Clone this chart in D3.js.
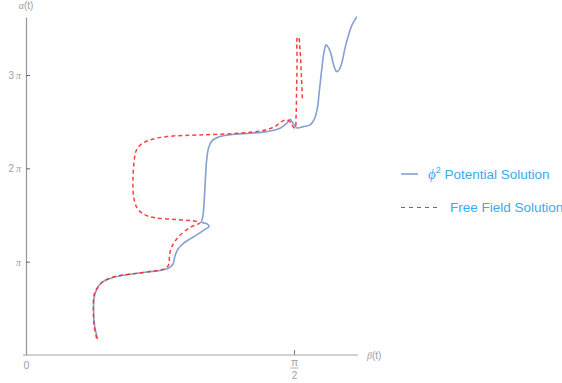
<!DOCTYPE html>
<html>
<head>
<meta charset="utf-8">
<script src="https://cdn.jsdelivr.net/npm/d3@7"></script>
<style>
  html, body { margin: 0; padding: 0; background: #fff; }
  svg { display: block; }
  .tick text { font-family: "Liberation Sans", Arial, sans-serif; }
</style>
</head>
<body>
<svg id="chart" width="562" height="383"></svg>
<script>
const PI = Math.PI;

// Trajectory (β(t), α(t)) for the φ² potential, in radians
const potentialBeta = [0.420,0.4015,0.396,0.400,0.416,0.444,0.492,0.580,0.709,0.786,0.834,0.862,0.873,0.891,0.926,1.001,1.049,1.073,1.061,1.029,1.035,1.041,1.049,1.059,1.070,1.090,1.137,1.225,1.313,1.411,1.489,1.528,1.548,1.567,1.589,1.625,1.665,1.688,1.706,1.720,1.733,1.747,1.759,1.770,1.786,1.803,1.821,1.835,1.851,1.870,1.888,1.911,1.939];
const potentialAlpha = [0.529,1.010,1.515,1.953,2.222,2.441,2.576,2.694,2.795,2.845,2.919,3.064,3.333,3.569,3.771,4.041,4.226,4.327,4.411,4.478,4.613,4.882,5.657,6.566,6.970,7.206,7.351,7.431,7.465,7.519,7.633,7.802,7.930,7.778,7.644,7.687,7.745,7.913,8.250,8.923,9.597,10.203,10.438,10.371,10.169,9.765,9.539,9.597,9.832,10.337,10.718,11.112,11.391];

// Trajectory for the free field
const freeBeta = [0.414,0.399,0.395,0.399,0.416,0.446,0.512,0.668,0.786,0.821,0.838,0.841,0.854,0.893,0.961,1.010,1.020,0.973,0.873,0.756,0.692,0.651,0.631,0.627,0.633,0.645,0.674,0.727,0.825,1.020,1.254,1.389,1.460,1.495,1.528,1.548,1.562,1.577,1.583,1.586,1.589,1.590,1.597,1.606,1.614,1.620];
const freeAlpha = [0.562,1.010,1.515,2.020,2.239,2.441,2.626,2.761,2.862,2.929,3.064,3.367,3.637,3.973,4.293,4.411,4.461,4.519,4.563,4.620,4.731,4.950,5.330,5.893,6.465,6.869,7.088,7.239,7.351,7.408,7.465,7.559,7.694,7.846,7.913,7.846,7.711,7.633,8.081,8.923,9.933,10.674,10.708,10.270,9.428,8.586];

const xTicks = [0, PI / 2];
const xTickLabels = ["0", ["π", "2"]];
const yTicks = [PI, 2 * PI, 3 * PI];
const yTickLabels = ["", "2", "3"];
const legendLabels = ["Potential Solution", "Free Field Solution"];

const svg = d3.select("#chart");

const x = d3.scaleLinear().domain([0, 1.9459]).range([26, 358]);
const y = d3.scaleLinear().domain([0, 3.6214 * PI]).range([355, 17]);

const axisColor = "#a3a3a3";
const labelColor = "#a0a0a0";

// x axis
const gx = svg.append("g").attr("transform", `translate(0,${y(0)})`)
  .call(d3.axisBottom(x).tickValues(xTicks).tickSize(-5).tickSizeOuter(0).tickFormat(""));
gx.select(".domain").remove();
svg.append("line")
  .attr("x1", x(0) - 3).attr("x2", x.range()[1])
  .attr("y1", y(0)).attr("y2", y(0))
  .attr("stroke", axisColor).attr("stroke-width", 1.2);
gx.selectAll(".tick line").attr("stroke", "#777").attr("stroke-width", 1)
  .attr("opacity", (d) => d === 0 ? 0 : 1);
gx.selectAll(".tick").each(function (d, i) {
  const g = d3.select(this);
  const lab = xTickLabels[i];
  if (typeof lab === "string") {
    g.append("text").attr("y", 14).attr("text-anchor", "middle")
      .attr("fill", labelColor).attr("font-size", 10.5)
      .attr("font-family", "Liberation Sans, Arial, sans-serif").text(lab);
  } else {
    g.append("text").attr("y", 10.5).attr("text-anchor", "middle")
      .attr("fill", labelColor).attr("font-size", 10.5)
      .attr("font-family", "Liberation Serif, Times New Roman, serif").text(lab[0]);
    g.append("line").attr("x1", -4).attr("x2", 4).attr("y1", 13).attr("y2", 13)
      .attr("stroke", labelColor).attr("stroke-width", 0.8);
    g.append("text").attr("y", 24).attr("text-anchor", "middle")
      .attr("fill", labelColor).attr("font-size", 10)
      .attr("font-family", "Liberation Sans, Arial, sans-serif").text(lab[1]);
  }
});

// y axis
const gy = svg.append("g").attr("transform", `translate(${x(0)},0)`)
  .call(d3.axisLeft(y).tickValues(yTicks).tickSize(-4).tickSizeOuter(0).tickPadding(5).tickFormat(""));
gy.select(".domain").attr("stroke", "#8e9a9a").attr("stroke-width", 1.2);
gy.selectAll(".tick line").attr("stroke", "#666");
gy.selectAll(".tick").each(function (d, i) {
  const t = d3.select(this).append("text")
    .attr("x", -5).attr("dy", "0.35em").attr("text-anchor", "end")
    .attr("fill", labelColor).attr("font-size", 10);
  if (yTickLabels[i]) {
    t.append("tspan").attr("font-family", "Liberation Sans, Arial, sans-serif").text(yTickLabels[i] + "\u2009");
  }
  t.append("tspan").attr("font-family", "Liberation Serif, Times New Roman, serif").attr("font-style", "italic").text("π");
});

// axis titles
svg.append("text").attr("x", x(0)).attr("y", 9).attr("text-anchor", "middle")
  .attr("fill", labelColor).attr("font-size", 10)
  .attr("font-family", "Liberation Sans, Arial, sans-serif")
  .html('<tspan font-family="Liberation Serif, serif" font-style="italic">α</tspan>(t)');
svg.append("text").attr("x", 367).attr("y", 358.5).attr("text-anchor", "start")
  .attr("fill", labelColor).attr("font-size", 10)
  .attr("font-family", "Liberation Sans, Arial, sans-serif")
  .html('<tspan font-family="Liberation Serif, serif" font-style="italic">β</tspan>(t)');

// curves
const line = d3.line().x((d) => x(d[0])).y((d) => y(d[1])).curve(d3.curveCatmullRom.alpha(0.5));
const potential = potentialBeta.map((b, i) => [b, potentialAlpha[i]]);
const free = freeBeta.map((b, i) => [b, freeAlpha[i]]);

const blue = "#86a0cf";
const red = "#ff2a2a";

svg.append("path").datum(potential).attr("d", line)
  .attr("fill", "none").attr("stroke", blue).attr("stroke-width", 1.6)
  .attr("stroke-linejoin", "round");
svg.append("path").datum(free).attr("d", line)
  .attr("fill", "none").attr("stroke", red).attr("stroke-width", 1.5)
  .attr("stroke-dasharray", "4,3").attr("opacity", 0.9);

// legend
const lg = svg.append("g");
lg.append("line").attr("x1", 401).attr("x2", 418).attr("y1", 174).attr("y2", 174)
  .attr("stroke", blue).attr("stroke-width", 1.6);
lg.append("text").attr("x", 428).attr("y", 179)
  .attr("fill", "#3aaaf0").attr("font-size", 13.5)
  .attr("font-family", "Liberation Sans, Arial, sans-serif")
  .html('<tspan font-family="Liberation Serif, serif" font-style="italic" font-size="15">ϕ</tspan><tspan dy="-6" font-size="9">2</tspan><tspan dy="6"> ' + legendLabels[0] + '</tspan>');
lg.append("line").attr("x1", 401).attr("x2", 440).attr("y1", 207.5).attr("y2", 207.5)
  .attr("stroke", red).attr("stroke-width", 1).attr("stroke-dasharray", "4,4");
lg.append("text").attr("x", 450).attr("y", 212)
  .attr("fill", "#3aaaf0").attr("font-size", 13.5)
  .attr("font-family", "Liberation Sans, Arial, sans-serif")
  .text(legendLabels[1]);
</script>
</body>
</html>
